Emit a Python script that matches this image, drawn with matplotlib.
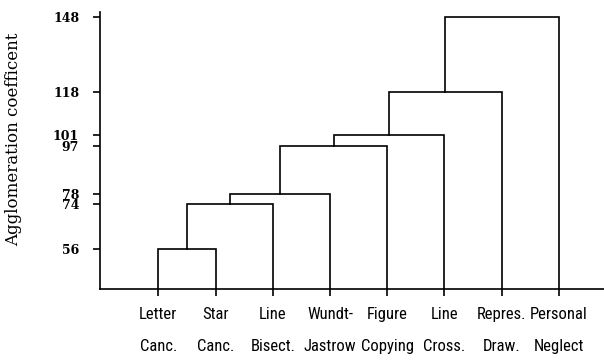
import matplotlib
matplotlib.use("Agg")
import matplotlib.pyplot as plt

# leaves in dendrogram order, and the height at which each one joins the growing cluster
leaf_names = ["Letter\nCanc.", "Star\nCanc.", "Line\nBisect.", "Wundt-\nJastrow",
              "Figure\nCopying", "Line\nCross.", "Repres.\nDraw.", "Personal\nNeglect"]
merge_heights = [56, 74, 78, 97, 101, 118, 148]
ytick_values = [56, 74, 78, 97, 101, 118, 148]

ymin, ymax = 40.4, 149.8

fig = plt.figure(figsize=(6.04, 3.62), dpi=100)
ax = fig.add_axes([100 / 604, 1 - 288.7 / 362, 504 / 604, (288.7 - 12) / 362])

lw = 1.2
# chain-shaped clustering: the cluster so far merges with the next leaf each step
cx, ch = 0, ymin
for i, h in enumerate(merge_heights):
    leaf_x = i + 1
    ax.plot([cx, cx, leaf_x, leaf_x], [ch, h, h, ymin], color="black", lw=lw,
            solid_joinstyle="miter")
    cx = (cx + leaf_x) / 2
    ch = h

ax.set_xlim(-1.02, 7.79)
ax.set_ylim(ymin, ymax)

ax.spines["top"].set_visible(False)
ax.spines["right"].set_visible(False)
for s in ("left", "bottom"):
    ax.spines[s].set_linewidth(lw)

ax.set_yticks(ytick_values)
ax.set_yticklabels([str(v) for v in ytick_values], family="DejaVu Serif",
                   fontsize=9, fontweight="bold")
ax.tick_params(axis="y", direction="out", length=5, width=lw, pad=10)

ax.set_xticks(range(len(leaf_names)))
ax.set_xticklabels(leaf_names,
                   family=["Roboto Condensed", "Liberation Sans Narrow", "Roboto"],
                   fontsize=12, linespacing=2.4)
ax.tick_params(axis="x", direction="out", length=5, width=lw, pad=8)

ax.set_ylabel("Agglomeration coefficent", family="DejaVu Serif", fontsize=12)
ax.yaxis.set_label_coords(-0.155, 0.54)

fig.savefig("out.png", dpi=100)
